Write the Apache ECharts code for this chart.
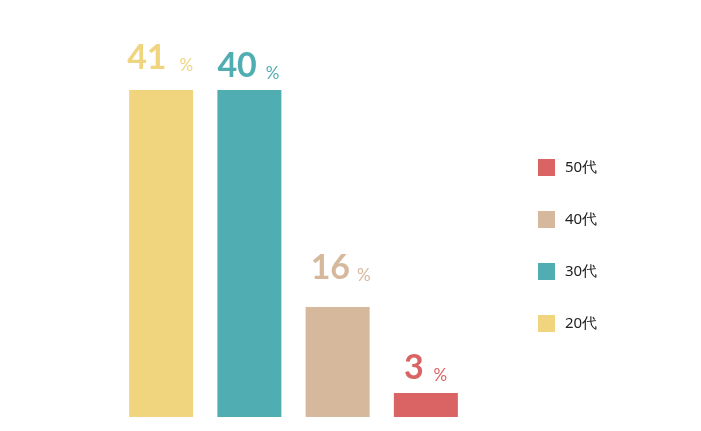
<!DOCTYPE html>
<html><head><meta charset="utf-8">
<script src="https://cdn.jsdelivr.net/npm/echarts@6/dist/echarts.min.js"></script>
<style>html,body{margin:0;padding:0;background:#fff}#c{width:701px;height:431px}</style>
</head><body><div id="c"></div>
<script>
var ageGroups = ['20代', '30代', '40代', '50代'];
var percentLabels = [41, 40, 16, 3];
var barValues = [41, 41, 13.8, 3.0];
var legendOrder = ['50代', '40代', '30代', '20代'];

var colors = ['#F0D57E', '#50ADB1', '#D6B89D', '#DA6464'];
var labelPos = [[-2, -51], [0, -43], [5, -58], [10, -44]];
var pctGap = [13, 9, 7, 10];

var chart = echarts.init(document.getElementById('c'));
var series = ageGroups.map(function (name, i) {
  var d = ageGroups.map(function (_, j) { return j === i ? barValues[i] : '-'; });
  return {
    name: name, type: 'bar', stack: 'all', barWidth: 64,
    itemStyle: { color: colors[i] },
    data: d,
    label: {
      show: true,
      position: labelPos[i],
      align: 'left', verticalAlign: 'top',
      formatter: function () { return '{n|' + percentLabels[i] + '}{g|}{p|%}'; },
      rich: {
        n: { fontSize: 34, fontWeight: 'bold', color: colors[i], fontFamily: 'Lato', lineHeight: 36, verticalAlign: 'bottom' },
        g: { width: pctGap[i], height: 10 },
        p: { fontSize: 17, color: colors[i], fontFamily: 'Lato', lineHeight: 18, verticalAlign: 'bottom', padding: [0, 0, 1, 0] }
      }
    }
  };
});

chart.setOption({
  animation: false,
  grid: { left: 117, right: 231, top: 90, bottom: 14 },
  xAxis: { type: 'category', data: ageGroups, show: false },
  yAxis: { type: 'value', min: 0, max: 41, show: false },
  legend: {
    data: legendOrder, orient: 'vertical', left: 538, top: 159, padding: 0,
    icon: 'rect', itemWidth: 17, itemHeight: 17, itemGap: 35,
    selectedMode: false,
    textStyle: { fontSize: 15, color: '#222', fontFamily: 'Noto Sans', padding: [0, 0, 0, 5] }
  },
  series: series
});
</script></body></html>
